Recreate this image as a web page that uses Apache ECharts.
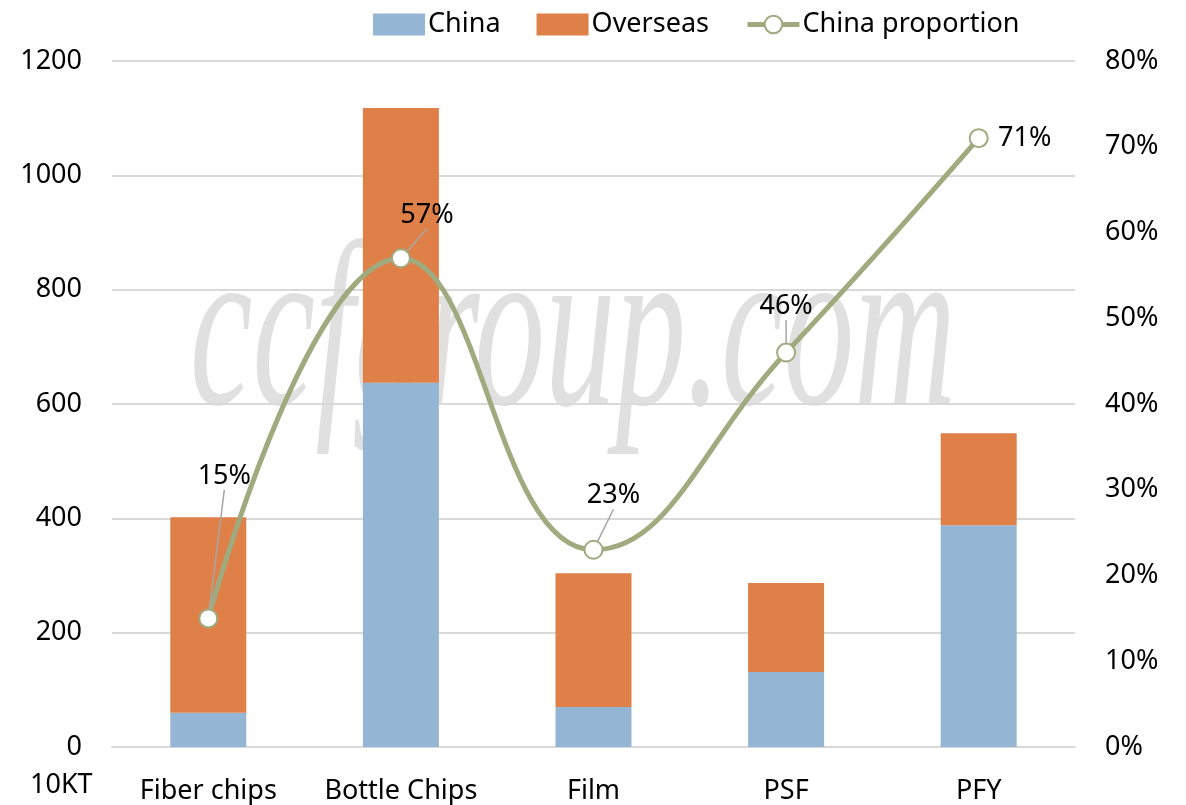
<!DOCTYPE html>
<html>
<head>
<meta charset="utf-8">
<script src="https://cdn.jsdelivr.net/npm/echarts@6/dist/echarts.min.js"></script>
<style>
    html, body { margin: 0; padding: 0; background: #fff; }
    #chart { width: 1186px; height: 805px; }
</style>
</head>
<body>
<div id="chart"></div>
<script type="text/javascript">
    // data
    let categories = ['Fiber chips', 'Bottle Chips', 'Film', 'PSF', 'PFY'];
    let chinaData = [60, 637, 70, 131, 388];
    let overseasData = [342, 481, 234, 156, 161];
    let proportionData = [15, 57, 23, 46, 71];
    // where each percentage label sits relative to its point
    let labelShift = [[16, -142], [26, -43], [20, -54], [0, -46], [46, 0]];

    let font = '"Noto Sans", sans-serif';
    let lineColor = '#9FAA7E';

    initChart();

    function initChart() {
        let myChart = echarts.init(document.getElementById('chart'));
        let lineData = proportionData.map(function (v, i) {
            // the last label sits beside its point, without a leader line
            return i === proportionData.length - 1 ? {value: v, labelLine: {show: false}} : v;
        });
        let option = {
            animation: false,
            textStyle: {fontFamily: font},
            legend: {
                top: 6,
                left: 368,
                itemGap: 36,
                itemWidth: 52,
                itemHeight: 22,
                textStyle: {fontSize: 27, color: '#000', fontFamily: font, padding: [0, 0, 0, -2]},
                data: [
                    {name: 'China', icon: 'rect'},
                    {name: 'Overseas', icon: 'rect'},
                    {
                        name: 'China proportion',
                        lineStyle: {width: 5},
                        itemStyle: {borderWidth: 2}
                    }
                ]
            },
            grid: {left: 112, right: 111, top: 61, bottom: 58},
            graphic: [
                {
                    type: 'text',
                    z: -10,
                    left: 190,
                    top: 225,
                    scaleX: 0.6,
                    style: {
                        text: 'ccfgroup.com',
                        fill: '#E0E0E0',
                        font: 'italic 235px "Liberation Serif", serif'
                    }
                },
                {
                    type: 'text',
                    left: 30,
                    top: 772,
                    style: {text: '10KT', fill: '#000', font: '27px ' + font}
                }
            ],
            xAxis: {
                type: 'category',
                data: categories,
                axisLine: {lineStyle: {color: '#D9D9D9', width: 2}},
                axisTick: {show: false},
                axisLabel: {color: '#000', fontSize: 27, margin: 31, interval: 0, hideOverlap: false}
            },
            yAxis: [
                {
                    type: 'value',
                    min: 0,
                    max: 1200,
                    interval: 200,
                    axisLine: {show: false},
                    axisTick: {show: false},
                    splitLine: {lineStyle: {color: '#D9D9D9', width: 2}},
                    axisLabel: {
                        color: '#000', fontSize: 27, margin: 30,
                        formatter: function (v) { return String(v); }
                    }
                },
                {
                    type: 'value',
                    min: 0,
                    max: 80,
                    interval: 10,
                    axisLine: {show: false},
                    axisTick: {show: false},
                    splitLine: {show: false},
                    axisLabel: {color: '#000', fontSize: 27, margin: 30, formatter: '{value}%'}
                }
            ],
            series: [
                {
                    name: 'China',
                    type: 'bar',
                    stack: 'total',
                    barWidth: 76,
                    itemStyle: {color: '#95B5D4'},
                    data: chinaData
                },
                {
                    name: 'Overseas',
                    type: 'bar',
                    stack: 'total',
                    barWidth: 76,
                    itemStyle: {color: '#DF8048'},
                    data: overseasData
                },
                {
                    name: 'China proportion',
                    type: 'line',
                    yAxisIndex: 1,
                    smooth: 0.45,
                    symbol: 'circle',
                    symbolSize: 18,
                    z: 5,
                    lineStyle: {color: lineColor, width: 5},
                    itemStyle: {color: '#fff', borderColor: lineColor, borderWidth: 2},
                    label: {
                        show: true,
                        position: 'inside',
                        color: '#000',
                        fontSize: 27,
                        formatter: '{c}%'
                    },
                    labelLine: {show: true, lineStyle: {color: '#A6A6A6', width: 1.5}},
                    labelLayout: function (params) {
                        let s = labelShift[params.dataIndex];
                        return {dx: s[0], dy: s[1]};
                    },
                    data: lineData
                }
            ]
        };
        myChart.setOption(option);
    }
</script>
</body>
</html>
